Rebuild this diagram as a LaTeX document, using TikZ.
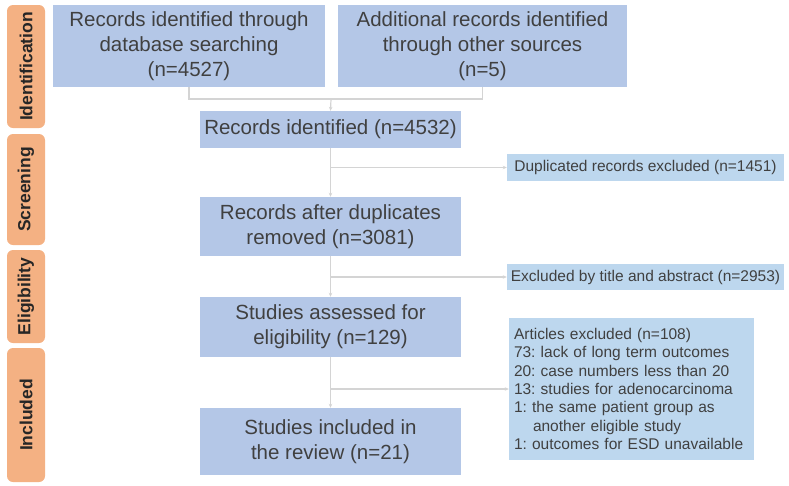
\documentclass[tikz,border=0pt]{standalone}
\usepackage{fontspec}
\setmainfont{Liberation Sans}
\usetikzlibrary{arrows.meta}

\definecolor{boxblue}{HTML}{B4C7E7}
\definecolor{noteblue}{HTML}{BDD7EE}
\definecolor{stageorange}{HTML}{F4B183}
\definecolor{linegray}{HTML}{D4D4D4}
\definecolor{textgray}{HTML}{404040}

\begin{document}
\frenchspacing
\begin{tikzpicture}[
  x=1pt, y=-1pt,
  stage/.style={rectangle, rounded corners=6pt, fill=stageorange, text=black!85,
    minimum height=38pt, rotate=90, inner sep=0pt,
    font=\bfseries\fontsize{17.5}{20}\selectfont},
  box/.style={rectangle, fill=boxblue, text=textgray, align=center, inner sep=0pt,
    font=\fontsize{20.5}{25}\selectfont},
  note/.style={rectangle, fill=noteblue, text=textgray, inner sep=0pt,
    font=\fontsize{15.5}{18.4}\selectfont},
  link/.style={draw=linegray, line width=1.2pt},
  tip/.style={-{Stealth[length=4pt, width=3.5pt]}}
  ]
\useasboundingbox (0,0) rectangle (789,485);

% stages
\node[stage, minimum width=123pt] (sid) at (26,66.5) {Identification};
\node[stage, minimum width=111pt] (sscr) at (26,189.5) {Screening};
\node[stage, minimum width=93pt] (selig) at (26,296.5) {Eligibility};
\node[stage, minimum width=134pt] (sinc) at (26,415) {Included};

% main flow
\node[box, minimum width=272pt, minimum height=82pt] (db) at (189,46)
  {Records identified through\\database searching\\(n=4527)};
\node[box, minimum width=289pt, minimum height=82pt] (other) at (482.5,46)
  {Additional records identified\\through other sources\\(n=5)};
\node[box, minimum width=261pt, minimum height=37pt] (ident) at (330.5,129.5)
  {Records identified (n=4532)};
\node[box, minimum width=261pt, minimum height=59pt] (dedup) at (330.5,226.5)
  {Records after duplicates\\removed (n=3081)};
\node[box, minimum width=261pt, minimum height=60pt] (elig) at (330.5,327)
  {Studies assessed for\\eligibility (n=129)};
\node[box, minimum width=261pt, minimum height=67pt] (incl) at (330.5,441.5)
  {Studies included in\\the review (n=21)};

% exclusions
\node[note, minimum width=277pt, minimum height=27pt] (dup) at (645.5,167.5)
  {Duplicated records excluded (n=1451)};
\node[note, minimum width=277pt, minimum height=26pt] (ta) at (645.5,277)
  {Excluded by title and abstract (n=2953)};
\node[note, minimum width=245pt, minimum height=142pt, align=left, inner xsep=5pt,
  text width=235pt] (art) at (631.5,389)
  {Articles excluded (n=108)\\
   73: lack of long term outcomes\\
   20: case numbers less than 20\\
   13: studies for adenocarcinoma\\
   1: the same patient group as\\
   \hspace*{19pt}another eligible study\\
   1: outcomes for ESD unavailable};

% connectors
\coordinate (j1) at (331,99);
\draw[link] (db.south) -- (db.south |- j1) -- (other.south |- j1) -- (other.south);
\draw[link, tip] (j1) -- (ident.north);
\draw[link, tip] (ident) -- (dedup);
\draw[link, tip] (dedup) -- (elig);
\draw[link, tip] (elig) -- (incl);
\draw[link, tip] (ident.south |- dup.west) -- (dup.west);
\draw[link, tip] (dedup.south |- ta.west) -- (ta.west);
\draw[link, tip] (elig.south |- art.west) -- (art.west);
\end{tikzpicture}
\end{document}
